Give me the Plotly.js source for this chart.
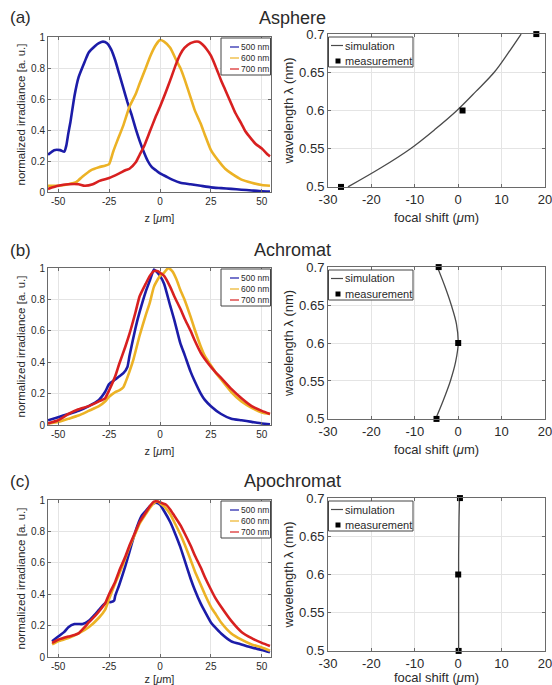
<!DOCTYPE html>
<html>
<head>
<meta charset="utf-8">
<script src="https://cdn.plot.ly/plotly-3.0.1.min.js"></script>
<style>html,body{margin:0;padding:0;background:#fff;}#chart{width:552px;height:685px;}</style>
</head>
<body>
<div id="chart"></div>
<script>
// ---------- DATA ----------
const panelLabels = ['(a)', '(b)', '(c)'];
const panelTitles = ['Asphere', 'Achromat', 'Apochromat'];
const seriesNames = ['500 nm', '600 nm', '700 nm'];
const lambdaSim = [0.5, 0.525, 0.55, 0.575, 0.6, 0.625, 0.65, 0.675, 0.7];
const lambdaMeas = [0.5, 0.6, 0.7];

// (a) Asphere irradiance
const asphZ500 = [-55,-52,-49,-47,-46,-45,-44,-42,-40,-37,-35,-32,-30,-28,-26,-24,-22,-20,-18,-16,-14,-12,-10,-8,-6,-4,-2,0,3,6,10,15,20,25,30,35,40,45,50,54];
const asphI500 = [0.24,0.27,0.27,0.26,0.3,0.38,0.45,0.62,0.74,0.84,0.9,0.94,0.96,0.97,0.96,0.92,0.85,0.76,0.67,0.58,0.5,0.41,0.33,0.26,0.2,0.16,0.14,0.12,0.1,0.08,0.06,0.05,0.04,0.03,0.025,0.02,0.015,0.01,0.005,0.003];
const asphZ600 = [-55,-50,-45,-41,-38,-34,-30,-27,-25,-23,-21,-18,-15,-12,-10,-7,-5,-2,0,2,5,8,10,12,15,17,20,22,25,27,30,32,35,40,45,50,54];
const asphI600 = [0.04,0.04,0.05,0.065,0.1,0.14,0.16,0.17,0.18,0.26,0.33,0.43,0.55,0.63,0.7,0.8,0.87,0.95,0.98,0.97,0.93,0.85,0.8,0.73,0.61,0.53,0.44,0.37,0.27,0.23,0.18,0.15,0.12,0.08,0.06,0.045,0.04];
const asphZ700 = [-55,-50,-45,-40,-37,-33,-30,-25,-20,-17,-15,-12,-10,-8,-5,-2,0,3,5,8,10,12,15,17,19,21,23,25,27,30,32,35,37,40,42,45,47,50,53,54];
const asphI700 = [0.02,0.04,0.05,0.05,0.04,0.05,0.07,0.09,0.12,0.14,0.15,0.19,0.24,0.29,0.39,0.49,0.55,0.65,0.72,0.83,0.89,0.93,0.96,0.97,0.97,0.95,0.92,0.88,0.82,0.72,0.66,0.57,0.51,0.44,0.39,0.34,0.31,0.28,0.24,0.23];

// (b) Achromat irradiance
const achZ500 = [-55,-50,-45,-40,-35,-30,-27,-25,-22,-20,-18,-16,-15,-12,-10,-7,-5,-3,-2,0,2,5,7,10,12,15,17,20,22,25,30,35,40,45,50,54];
const achI500 = [0.03,0.05,0.07,0.09,0.12,0.16,0.21,0.26,0.29,0.31,0.33,0.37,0.44,0.62,0.72,0.85,0.92,0.99,0.98,0.95,0.9,0.76,0.67,0.52,0.45,0.34,0.28,0.2,0.16,0.12,0.07,0.04,0.03,0.02,0.01,0.005];
const achZ600 = [-55,-50,-45,-40,-35,-30,-27,-25,-22,-20,-18,-17,-15,-13,-10,-7,-5,-3,-1,0,2,4,6,8,10,12,15,17,20,22,25,27,30,35,40,45,50,54];
const achI600 = [0.01,0.02,0.04,0.06,0.09,0.12,0.15,0.18,0.21,0.22,0.24,0.27,0.34,0.42,0.57,0.7,0.78,0.88,0.93,0.95,0.97,1.0,0.98,0.93,0.86,0.8,0.69,0.61,0.5,0.44,0.38,0.34,0.29,0.21,0.15,0.11,0.08,0.07];
const achZ700 = [-55,-50,-45,-40,-35,-30,-27,-25,-22,-20,-17,-15,-12,-10,-7,-5,-3,-1,0,2,5,7,10,12,15,17,20,22,25,27,30,35,40,45,50,54];
const achI700 = [0.01,0.03,0.07,0.1,0.12,0.15,0.17,0.22,0.31,0.39,0.5,0.58,0.72,0.82,0.9,0.95,0.98,0.98,0.97,0.95,0.88,0.82,0.74,0.68,0.6,0.54,0.46,0.42,0.37,0.34,0.3,0.23,0.17,0.12,0.09,0.07];

// (c) Apochromat irradiance
const apoZ500 = [-53,-50,-47,-45,-42,-40,-38,-35,-32,-30,-28,-26,-24,-22.5,-22,-20,-17,-15,-13,-11,-9,-7,-5,-3,-1,0,2,5,7,10,12,15,17,20,22,25,27,30,35,40,45,50,54];
const apoI500 = [0.1,0.13,0.16,0.19,0.21,0.21,0.21,0.23,0.27,0.3,0.33,0.35,0.35,0.36,0.39,0.46,0.58,0.67,0.76,0.84,0.9,0.93,0.96,0.98,0.98,0.97,0.93,0.86,0.8,0.7,0.62,0.5,0.43,0.34,0.29,0.22,0.19,0.15,0.1,0.08,0.06,0.045,0.03];
const apoZ600 = [-53,-50,-45,-40,-35,-30,-27,-25,-22,-20,-17,-15,-12,-10,-7,-5,-3,-1,0,2,5,7,10,12,15,17,20,22,25,27,30,35,40,45,50,54];
const apoI600 = [0.08,0.1,0.12,0.15,0.19,0.25,0.3,0.37,0.47,0.53,0.63,0.7,0.79,0.85,0.91,0.95,0.98,0.99,0.98,0.96,0.91,0.86,0.78,0.72,0.62,0.55,0.46,0.4,0.32,0.28,0.22,0.15,0.11,0.08,0.06,0.04];
const apoZ700 = [-53,-50,-45,-42,-40,-37,-35,-32,-30,-27,-25,-22,-20,-17,-15,-12,-10,-7,-5,-3,-1,1,3,5,7,10,12,15,17,20,22,25,27,30,35,40,45,50,54];
const apoI700 = [0.09,0.11,0.13,0.14,0.15,0.19,0.22,0.26,0.29,0.34,0.4,0.48,0.55,0.64,0.71,0.8,0.86,0.92,0.96,0.99,0.99,0.98,0.97,0.94,0.9,0.84,0.79,0.71,0.65,0.57,0.51,0.43,0.38,0.32,0.23,0.16,0.12,0.09,0.07];

// focal shift (um)
const asphShiftSim = [-25.4,-17.8,-11,-5.4,-0.3,4.1,8.3,11.5,14.5];
const asphShiftMeas = [-27, 1, 18];
const achShiftSim = [-5.2,-3.4,-1.8,-0.6,0,-0.4,-1.6,-3.1,-4.8];
const achShiftMeas = [-5, 0, -4.5];
const apoShiftSim = [0.1,0.1,0.1,0.1,0.1,0.1,0.15,0.2,0.3];
const apoShiftMeas = [0.1, 0, 0.4];

const leftXTickVals = [-50,-25,0,25,50];
const leftXTickText = ['-50','-25','0','25','50'];
const rightXTickVals = [-30,-20,-10,0,10,20];
const rightXTickText = ['-30','-20','-10','0','10','20'];

// ---------- STYLE / LAYOUT ----------
const W = 552, H = 685;
const PX = x => x / W;
const PY = y => 1 - y / H;
const colors = ['#1c1ca8', '#ecb225', '#d82020'];
const FONT = 'Liberation Sans, Arial, sans-serif';
const TXT = '#2a2a2a';

const leftBox = {x0: 48, x1: 271};
const rightBox = {x0: 328, x1: 545};
const leftRows = [[37,192],[268,425],[500,657]];
const rightRows = [[34,187],[267,419],[498,651]];
const titleY = [18, 250, 481];

const irr = [
  [[asphZ500, asphI500],[asphZ600, asphI600],[asphZ700, asphI700]],
  [[achZ500, achI500],[achZ600, achI600],[achZ700, achI700]],
  [[apoZ500, apoI500],[apoZ600, apoI600],[apoZ700, apoI700]]
];
const shifts = [[asphShiftSim, asphShiftMeas],[achShiftSim, achShiftMeas],[apoShiftSim, apoShiftMeas]];

const traces = [];
const layout = {
  width: W, height: H,
  margin: {l:0, r:0, t:0, b:0},
  paper_bgcolor: '#fff', plot_bgcolor: '#fff',
  showlegend: false,
  font: {family: FONT, color: TXT},
  shapes: [], annotations: []
};

function axisBase() {
  return {
    showline: true, linecolor: '#6a6a6a', linewidth: 1, mirror: 'ticks',
    ticks: 'inside', ticklen: 3, tickcolor: '#6a6a6a',
    showgrid: true, gridcolor: '#e4e4e4', gridwidth: 1,
    zeroline: false, fixedrange: true, ticklabeloverflow: 'allow'
  };
}

for (let r = 0; r < 3; r++) {
  const li = 2*r + 1, ri = 2*r + 2;
  const lx = 'x' + (li === 1 ? '' : li), ly = 'y' + (li === 1 ? '' : li);
  const rx = 'x' + ri, ry = 'y' + ri;
  const lxk = 'xaxis' + (li === 1 ? '' : li), lyk = 'yaxis' + (li === 1 ? '' : li);
  const rxk = 'xaxis' + ri, ryk = 'yaxis' + ri;

  layout[lxk] = Object.assign(axisBase(), {
    domain: [PX(leftBox.x0), PX(leftBox.x1)], anchor: ly, range: [-55, 54.5],
    tickvals: leftXTickVals, ticktext: leftXTickText,
    tickfont: {size: 10, color: TXT, family: FONT},
    title: {text: 'z [<i>μ</i>m]', font: {size: 11, color: TXT, family: FONT}, standoff: 8}
  });
  layout[lyk] = Object.assign(axisBase(), {
    domain: [PY(leftRows[r][1]), PY(leftRows[r][0])], anchor: lx, range: [0, 1.0001],
    dtick: 0.2, tickfont: {size: 10, color: TXT, family: FONT},
    title: {text: 'normalized irradiance [a. u.]', font: {size: 11.5, color: TXT, family: FONT}, standoff: 3}
  });
  layout[rxk] = Object.assign(axisBase(), {
    domain: [PX(rightBox.x0), PX(rightBox.x1)], anchor: ry, range: [-30.001, 20.001],
    tickvals: rightXTickVals, ticktext: rightXTickText,
    tickfont: {size: 13, color: TXT, family: FONT},
    title: {text: 'focal shift (<i>μ</i>m)', font: {size: 13, color: TXT, family: FONT}, standoff: 7}
  });
  layout[ryk] = Object.assign(axisBase(), {
    domain: [PY(rightRows[r][1]), PY(rightRows[r][0])], anchor: rx, range: [0.4999, 0.7001],
    dtick: 0.05, tickfont: {size: 13, color: TXT, family: FONT},
    title: {text: 'wavelength λ (nm)', font: {size: 13, color: TXT, family: FONT}, standoff: 2}
  });

  // irradiance curves
  for (let s = 0; s < 3; s++) {
    traces.push({
      type: 'scatter', mode: 'lines', x: irr[r][s][0], y: irr[r][s][1],
      xaxis: lx, yaxis: ly, name: seriesNames[s],
      line: {color: colors[s], width: 2.6, shape: 'spline', smoothing: 0.5}, hoverinfo: 'skip'
    });
  }
  // focal shift
  traces.push({
    type: 'scatter', mode: 'lines', x: shifts[r][0], y: lambdaSim,
    xaxis: rx, yaxis: ry, name: 'simulation', line: {color: '#4a4a4a', width: 1.3, shape: 'spline', smoothing: 1},
    cliponaxis: false, hoverinfo: 'skip'
  });
  traces.push({
    type: 'scatter', mode: 'markers', x: shifts[r][1], y: lambdaMeas,
    xaxis: rx, yaxis: ry, name: 'measurement',
    marker: {symbol: 'square', size: 6, color: '#000'}, cliponaxis: false, hoverinfo: 'skip'
  });

  // panel label and title
  layout.annotations.push({
    xref: 'paper', yref: 'paper', x: PX(8), y: PY(titleY[r]), xanchor: 'left', yanchor: 'middle',
    text: panelLabels[r], showarrow: false, font: {size: 17, color: TXT, family: FONT}
  });
  layout.annotations.push({
    xref: 'paper', yref: 'paper', x: PX(292), y: PY(titleY[r]), xanchor: 'center', yanchor: 'middle',
    text: panelTitles[r], showarrow: false, font: {size: 18, color: TXT, family: FONT}
  });

  // custom legend (left plot)
  const lt = leftRows[r][0], bl = leftBox.x1 - 50;
  layout.shapes.push({type: 'rect', xref: 'paper', yref: 'paper',
    x0: PX(bl), x1: PX(leftBox.x1 - 0.5), y0: PY(lt + 1), y1: PY(lt + 38),
    line: {color: '#444', width: 1}, fillcolor: '#fff', layer: 'above'});
  for (let s = 0; s < 3; s++) {
    const yy = lt + 10 + 11 * s;
    layout.shapes.push({type: 'line', xref: 'paper', yref: 'paper',
      x0: PX(bl + 9), x1: PX(bl + 18), y0: PY(yy), y1: PY(yy),
      line: {color: colors[s], width: 1.2}, layer: 'above'});
    layout.annotations.push({xref: 'paper', yref: 'paper', x: PX(bl + 18), y: PY(yy),
      xanchor: 'left', yanchor: 'middle', showarrow: false, text: seriesNames[s],
      font: {size: 8.5, color: TXT, family: FONT}});
  }
  // custom legend (right plot)
  const rt = rightRows[r][0], rl = rightBox.x0;
  layout.shapes.push({type: 'rect', xref: 'paper', yref: 'paper',
    x0: PX(rl + 0.5), x1: PX(rl + 85), y0: PY(rt + 3), y1: PY(rt + 33),
    line: {color: '#444', width: 1}, fillcolor: '#fff', layer: 'above'});
  layout.shapes.push({type: 'line', xref: 'paper', yref: 'paper',
    x0: PX(rl + 3), x1: PX(rl + 15), y0: PY(rt + 11.5), y1: PY(rt + 11.5),
    line: {color: '#4a4a4a', width: 1.2}, layer: 'above'});
  layout.shapes.push({type: 'rect', xref: 'paper', yref: 'paper',
    x0: PX(rl + 7.5), x1: PX(rl + 12.5), y0: PY(rt + 24.5), y1: PY(rt + 29.5),
    line: {width: 0}, fillcolor: '#000', layer: 'above'});
  layout.annotations.push({xref: 'paper', yref: 'paper', x: PX(rl + 15), y: PY(rt + 11.5),
    xanchor: 'left', yanchor: 'middle', showarrow: false, text: 'simulation',
    font: {size: 11, color: TXT, family: FONT}});
  layout.annotations.push({xref: 'paper', yref: 'paper', x: PX(rl + 15), y: PY(rt + 27),
    xanchor: 'left', yanchor: 'middle', showarrow: false, text: 'measurement',
    font: {size: 11, color: TXT, family: FONT}});
}

Plotly.newPlot('chart', traces, layout, {displayModeBar: false, staticPlot: true});
</script>
</body>
</html>
